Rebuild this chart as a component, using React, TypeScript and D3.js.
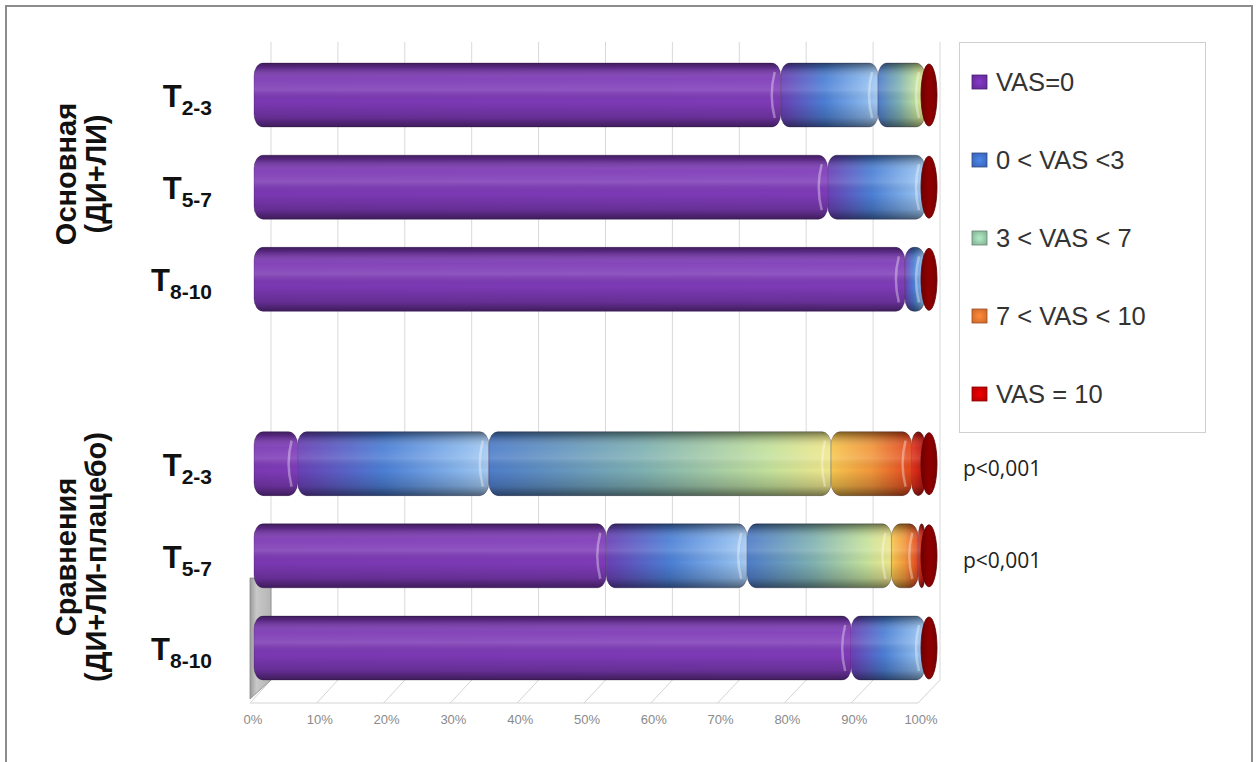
import React from "react";
import * as d3 from "d3";

// ---- data ----
const groups = ["Основная|(ДИ+ЛИ)", "Сравнения|(ДИ+ЛИ-плацебо)"];
const periods = ["2-3", "5-7", "8-10"];
const seriesNames = ["VAS=0", "0 < VAS <3", "3 < VAS < 7", "7 < VAS < 10", "VAS = 10"];
// rows: Основная T2-3, T5-7, T8-10, Сравнения T2-3, T5-7, T8-10 (percent)
const vas0 = [78.5, 85.5, 97, 6.5, 52.5, 89];
const vas0to3 = [14.5, 14.5, 3, 28.5, 21, 11];
const vas3to7 = [7, 0, 0, 51, 21.5, 0];
const vas7to10 = [0, 0, 0, 12, 4, 0];
const vas10 = [0, 0, 0, 2, 1, 0];
const pValues = ["", "", "", "p<0,001", "p<0,001", ""];
const tickFormat = (d: number) => `${d}%`;

const seriesValues = [vas0, vas0to3, vas3to7, vas7to10, vas10];

const gradStops: [number, string][][] = [
  [[0, "#7b38b3"], [1, "#7e3bb8"]],
  [[0, "#6a40b6"], [0.45, "#4b7fd5"], [0.85, "#88b6ec"], [1, "#a6caf2"]],
  [[0, "#4e7dca"], [0.45, "#7fb1b2"], [0.82, "#c3e19c"], [1, "#f1e68a"]],
  [[0, "#f6c64f"], [0.5, "#f1963c"], [1, "#e2441d"]],
  [[0, "#e2361c"], [1, "#b51010"]],
];
const legendColors = ["#6c2ea3", "#3e6cc0", "#8fbfa0", "#e0702e", "#c40000"];

export default function App() {
  const W = 1256, H = 762;
  const slots = ["0", "1", "2", "gap", "3", "4", "5"];
  const y = d3.scalePoint<string>().domain(slots).range([95, 648]);
  const x = d3.scaleLinear().domain([0, 100]).range([254, 925]);
  const xBack = d3.scaleLinear().domain([0, 100]).range([271, 940]);
  const xFront = d3.scaleLinear().domain([0, 100]).range([250, 918]);
  const barH = 64;
  const backTop = 42, backBottom = 680, frontY = 703;
  const ticks = xFront.ticks(10);

  const rows = vas0.map((_, i) => {
    let acc = 0;
    const segs = seriesValues.map((vals, s) => {
      const v = vals[i];
      const s0 = acc;
      acc += v;
      return { s, x0: x(s0), x1: x(acc), v };
    });
    return { i, cy: y(String(i)) as number, segs };
  });

  const groupCenters = [174, 557];

  return (
    <svg width={W} height={H} style={{ position: "absolute", left: 0, top: 0 }}
      fontFamily="'Liberation Sans', Arial, sans-serif">
      <defs>
        {gradStops.map((st, k) => (
          <linearGradient key={k} id={`g${k}`} x1="0" y1="0" x2="1" y2="0">
            {st.map(([o, c], j) => <stop key={j} offset={o} stopColor={c} />)}
          </linearGradient>
        ))}
        <linearGradient id="shade" x1="0" y1="0" x2="0" y2="1">
          <stop offset="0" stopColor="#000" stopOpacity="0.5" />
          <stop offset="0.07" stopColor="#000" stopOpacity="0.28" />
          <stop offset="0.25" stopColor="#fff" stopOpacity="0.06" />
          <stop offset="0.42" stopColor="#fff" stopOpacity="0.14" />
          <stop offset="0.6" stopColor="#000" stopOpacity="0.0" />
          <stop offset="0.85" stopColor="#000" stopOpacity="0.18" />
          <stop offset="1" stopColor="#000" stopOpacity="0.5" />
        </linearGradient>
        <linearGradient id="cap" x1="0" y1="0" x2="1" y2="0">
          <stop offset="0" stopColor="#6e0000" />
          <stop offset="0.5" stopColor="#8f0000" />
          <stop offset="1" stopColor="#7a0000" />
        </linearGradient>
        <linearGradient id="wall" x1="0" y1="0" x2="1" y2="0">
          <stop offset="0" stopColor="#9a9a9a" />
          <stop offset="0.3" stopColor="#c8c8c8" />
          <stop offset="1" stopColor="#b5b5b5" />
        </linearGradient>
        {legendColors.map((c, k) => (
          <radialGradient key={k} id={`lg${k}`} cx="0.5" cy="0.5" r="0.7">
            <stop offset="0" stopColor={d3.color(c)!.brighter(0.6).toString()} />
            <stop offset="1" stopColor={d3.color(c)!.darker(0.3).toString()} />
          </radialGradient>
        ))}
      </defs>

      <rect x={0} y={0} width={W} height={H} fill="#fff" />
      {/* outer frame */}
      <path d={`M6,${H + 5} V6 H1252 V${H + 5}`} fill="none" stroke="#8c8c8c" strokeWidth={2} />

      {/* back wall gridlines */}
      {ticks.map((t) => (
        <line key={`gb${t}`} x1={xBack(t)} x2={xBack(t)} y1={backTop} y2={backBottom}
          stroke="#d9d9d9" strokeWidth={1} />
      ))}
      {/* floor */}
      {ticks.map((t) => (
        <line key={`gf${t}`} x1={xBack(t)} y1={backBottom} x2={xFront(t)} y2={frontY}
          stroke="#d4d4d4" strokeWidth={1} />
      ))}
      <line x1={xFront(0)} x2={xFront(100)} y1={frontY} y2={frontY} stroke="#d4d4d4" />
      {/* left wall sliver */}
      <polygon points={`${xFront(0)},578 ${xBack(0)},578 ${xBack(0)},${backBottom} ${xFront(0)},${frontY - 4}`}
        fill="url(#wall)" stroke="#8a8a8a" strokeWidth={0.8} />

      {/* tick labels */}
      {ticks.map((t) => (
        <text key={`tl${t}`} x={xFront(t) + 3} y={724} textAnchor="middle" fontSize={13}
          fill="#8a8a8a" fontFamily="'Liberation Sans Narrow', 'Liberation Sans', sans-serif">
          {tickFormat(t)}
        </text>
      ))}

      {/* bars */}
      {rows.map((r) => {
        const top = r.cy - barH / 2;
        const total = r.segs[r.segs.length - 1].x1;
        return (
          <g key={`row${r.i}`}>
            {r.segs.filter((sg) => sg.v > 0).map((sg) => {
              const w = sg.x1 - sg.x0;
              const rx = Math.min(9, w / 2);
              return (
                <g key={sg.s}>
                  <rect x={sg.x0} y={top} width={w} height={barH} rx={rx} ry={13}
                    fill={`url(#g${sg.s})`} stroke="rgba(40,20,60,0.35)" strokeWidth={0.8} />
                  <rect x={sg.x0} y={top} width={w} height={barH} rx={rx} ry={13}
                    fill="url(#shade)" />
                  {w > 14 && (
                    <path d={`M${sg.x1 - 6},${top + 9} Q${sg.x1 - 12},${r.cy} ${sg.x1 - 6},${top + barH - 9}`}
                      fill="none" stroke="#fff" strokeOpacity={0.35} strokeWidth={2.5} />
                  )}
                </g>
              );
            })}
            <ellipse cx={total + 4} cy={r.cy} rx={8} ry={barH / 2 - 1} fill="url(#cap)"
              stroke="#5a0000" strokeWidth={0.8} />
          </g>
        );
      })}

      {/* category labels */}
      {rows.map((r) => (
        <text key={`cl${r.i}`} x={212} y={r.cy + 12} textAnchor="end" fontWeight="bold" fill="#111">
          <tspan fontSize={31}>T</tspan>
          <tspan fontSize={21} dy={8}>{periods[r.i % 3]}</tspan>
        </text>
      ))}

      {/* group labels */}
      {groups.map((g, k) => {
        const lines = g.split("|");
        return (
          <text key={`gr${k}`} transform={`translate(76,${groupCenters[k]}) rotate(-90)`}
            textAnchor="middle" fontWeight="bold" fontSize={29} fill="#111">
            {lines.map((ln, j) => (
              <tspan key={j} x={0} dy={j === 0 ? 0 : 30}>{ln}</tspan>
            ))}
          </text>
        );
      })}

      {/* p-values */}
      {rows.map((r) => pValues[r.i] ? (
        <text key={`p${r.i}`} x={963} y={r.cy + 12} fontSize={21} fill="#222"
          fontFamily="'Open Sans', 'Liberation Sans', sans-serif">{pValues[r.i]}</text>
      ) : null)}

      {/* legend */}
      <rect x={959.5} y={42.5} width={246} height={390} fill="#fff" stroke="#d0d0d0" />
      {seriesNames.map((n, k) => {
        const cy = 82 + k * 78;
        return (
          <g key={`lgd${k}`}>
            <rect x={972} y={cy - 7} width={15} height={14} fill={`url(#lg${k})`}
              stroke={d3.color(legendColors[k])!.darker(1).toString()} strokeWidth={0.8} />
            <text x={996} y={cy + 9} fontSize={25.5} fill="#333">{n}</text>
          </g>
        );
      })}
    </svg>
  );
}
